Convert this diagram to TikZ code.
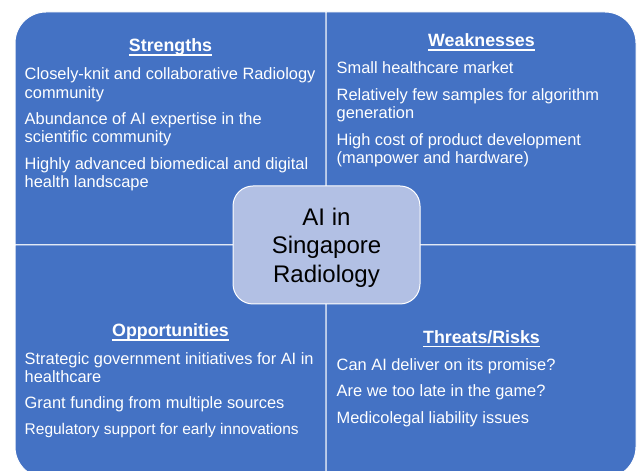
\documentclass[tikz,border=0pt]{standalone}
\usepackage{fontspec}
\setmainfont{Liberation Sans}
\definecolor{swotblue}{RGB}{68,114,196}
\definecolor{hubfill}{RGB}{178,192,228}
\begin{document}
\begin{tikzpicture}[x=1pt,y=1pt,
  quad/.style={fill=swotblue, draw=white, line width=1pt},
  hdr/.style={font=\fontsize{17.8}{20}\selectfont\bfseries, text=white, inner sep=0pt, anchor=base},
  body/.style={font=\fontsize{16.4}{18}\selectfont, text=white, inner sep=0pt, anchor=base west},
  small/.style={body, font=\fontsize{15.5}{18}\selectfont},
  ul/.style={draw=white, line width=1.1pt},
  hubbox/.style={fill=hubfill, draw=white, line width=1pt, rounded corners=20pt,
    minimum width=187pt, minimum height=118pt, align=center, inner sep=0pt,
    font=\fontsize{24}{28.5}\selectfont, text=black}]
\clip (0,0) rectangle (638,471);

% four quadrants, each with one rounded outer corner
\path[quad] (326,226) -- (326,459) -- (46,459) arc[start angle=90, end angle=180, radius=31pt] -- (15,226) -- cycle;
\path[quad] (326,226) -- (326,459) -- (605,459) arc[start angle=90, end angle=0, radius=31pt] -- (636,226) -- cycle;
\path[quad] (326,226) -- (15,226) -- (15,24) arc[start angle=180, end angle=270, radius=31pt] -- (326,-7) -- cycle;
\path[quad] (326,226) -- (636,226) -- (636,24) arc[start angle=0, end angle=-90, radius=31pt] -- (326,-7) -- cycle;

% Strengths
\node[hdr] (hS) at (170.5,419.3) {Strengths};
\draw[ul] ([yshift=-3.3pt]hS.base west) -- ([yshift=-3.3pt]hS.base east);
\node[body] (s1) at (24.5,391) {Closely-knit and collaborative Radiology};
\node[body] (s2) at (24.5,372.7) {community};
\node[body] (s3) at (24.5,346.7) {Abundance of AI expertise in the};
\node[body] (s4) at (24.5,328.7) {scientific community};
\node[body] (s5) at (24.5,301.7) {Highly advanced biomedical and digital};
\node[body] (s6) at (24.5,283.7) {health landscape};

% Weaknesses
\node[hdr] (hW) at (481.5,424.3) {Weaknesses};
\draw[ul] ([yshift=-3.3pt]hW.base west) -- ([yshift=-3.3pt]hW.base east);
\node[body] (w1) at (336.5,397) {Small healthcare market};
\node[body] (w2) at (336.5,370.3) {Relatively few samples for algorithm};
\node[body] (w3) at (336.5,352) {generation};
\node[body] (w4) at (336.5,325.3) {High cost of product development};
\node[body] (w5) at (336.5,307.7) {(manpower and hardware)};

% Opportunities
\node[hdr] (hO) at (170.5,134.3) {Opportunities};
\draw[ul] ([yshift=-3.3pt]hO.base west) -- ([yshift=-3.3pt]hO.base east);
\node[body] (o1) at (24.5,106) {Strategic government initiatives for AI in};
\node[body] (o2) at (24.5,88.3) {healthcare};
\node[body] (o3) at (24.5,62) {Grant funding from multiple sources};
\node[small] (o4) at (24.5,36.7) {Regulatory support for early innovations};

% Threats/Risks
\node[hdr] (hT) at (481.5,127.7) {Threats/Risks};
\draw[ul] ([yshift=-3.3pt]hT.base west) -- ([yshift=-3.3pt]hT.base east);
\node[body] (t1) at (336.5,100.3) {Can AI deliver on its promise?};
\node[body] (t2) at (336.5,74.3) {Are we too late in the game?};
\node[body] (t3) at (336.5,47.7) {Medicolegal liability issues};

% central topic (the strut lowers the three lines a little inside the box)
\node[hubbox] (hub) at (326.5,226) {\rule{0pt}{22pt}AI in\\Singapore\\Radiology};
\end{tikzpicture}
\end{document}
